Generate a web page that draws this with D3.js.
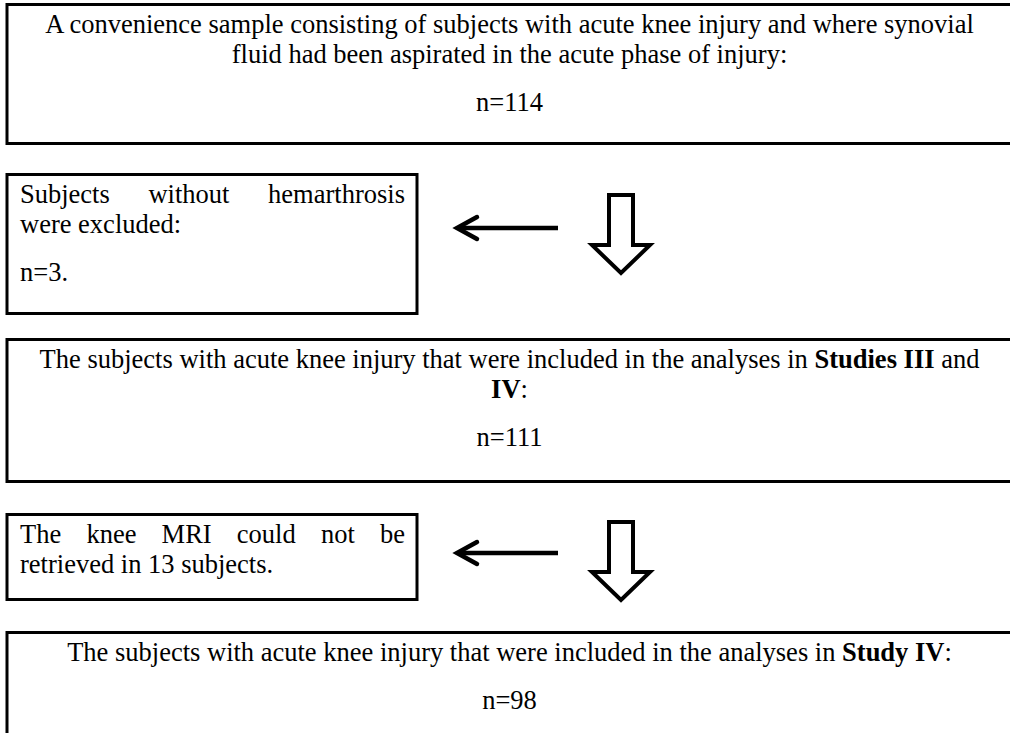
<!DOCTYPE html>
<html>
<head>
<meta charset="utf-8">
<script src="https://cdn.jsdelivr.net/npm/d3@7"></script>
<style>
  html, body { margin: 0; padding: 0; background: #fff; }
  svg { display: block; }
  text { font-family: "Liberation Serif", "Times New Roman", serif; font-size: 26.5px; fill: #000; }
</style>
</head>
<body>
<svg id="chart" width="1010" height="733"></svg>
<script>
// ---- data ----
const mainTexts = [
  ["A convenience sample consisting of subjects with acute knee injury and where synovial",
   "fluid had been aspirated in the acute phase of injury:"],
  ["The subjects with acute knee injury that were included in the analyses in **Studies III** and",
   "**IV**:"],
  ["The subjects with acute knee injury that were included in the analyses in **Study IV**:"]
];
const mainCounts = [114, 111, 98];
const exclusionTexts = [
  ["Subjects without hemarthrosis", "were excluded:"],
  ["The knee MRI could not be", "retrieved in 13 subjects."]
];
const exclusionCounts = [3, 13];
const exclusionShowCount = [true, false];

// ---- layout ----
const svg = d3.select("#chart");
const mainTop = [3, 338, 631];
const mainH = [139, 142, 140];
const mainX0 = 7, mainX1 = 1014;
const exTop = [173, 513];
const exH = [139, 85];
const exX0 = 7, exX1 = 417;
const lineGap = 30, countGap = 48, firstLine = 22, baseOff = 8;
const arrowY = [228, 553];
const blockTop = [195, 522];
const blockHead = [245, 572];
const blockTip = [273, 600];

function addRich(sel, str) {
  const parts = str.split("**");
  parts.forEach((p, i) => {
    if (!p) return;
    sel.append("tspan").text(p).style("font-weight", i % 2 ? "bold" : "normal");
  });
}

// main boxes
mainTexts.forEach((lines, i) => {
  const g = svg.append("g");
  g.append("rect")
    .attr("x", mainX0).attr("y", mainTop[i] + 1.5)
    .attr("width", mainX1 - mainX0).attr("height", mainH[i])
    .attr("fill", "none").attr("stroke", "#000").attr("stroke-width", 3);
  const cx = (mainX0 + 1012) / 2;
  lines.forEach((ln, j) => {
    const t = g.append("text").attr("x", cx)
      .attr("y", mainTop[i] + firstLine + j * lineGap + baseOff)
      .attr("text-anchor", "middle");
    addRich(t, ln);
  });
  const lastC = mainTop[i] + firstLine + (lines.length - 1) * lineGap;
  g.append("text").attr("x", cx).attr("y", lastC + countGap + baseOff)
    .attr("text-anchor", "middle").text("n=" + mainCounts[i]);
});

// justified line helper
function justify(g, str, x0, x1, y) {
  const words = str.split(" ");
  const nodes = words.map(w => g.append("text").attr("y", y).text(w));
  const widths = nodes.map(n => n.node().getComputedTextLength());
  const total = d3.sum(widths);
  const gap = (x1 - x0 - total) / (words.length - 1);
  let x = x0;
  nodes.forEach((n, k) => { n.attr("x", x); x += widths[k] + gap; });
}

// exclusion boxes
exclusionTexts.forEach((lines, i) => {
  const g = svg.append("g");
  g.append("rect")
    .attr("x", exX0).attr("y", exTop[i] + 1.5)
    .attr("width", exX1 - exX0).attr("height", exH[i])
    .attr("fill", "none").attr("stroke", "#000").attr("stroke-width", 3);
  const tx0 = 20, tx1 = 405;
  lines.forEach((ln, j) => {
    const y = exTop[i] + firstLine + j * lineGap + baseOff;
    if (j < lines.length - 1) justify(g, ln, tx0, tx1, y);
    else g.append("text").attr("x", tx0).attr("y", y).text(ln);
  });
  if (exclusionShowCount[i]) {
    const lastC = exTop[i] + firstLine + (lines.length - 1) * lineGap;
    g.append("text").attr("x", tx0).attr("y", lastC + countGap + baseOff)
      .text("n=" + exclusionCounts[i] + ".");
  }

  // thin left arrow
  const ay = arrowY[i];
  g.append("line").attr("x1", 558).attr("x2", 458).attr("y1", ay).attr("y2", ay)
    .attr("stroke", "#000").attr("stroke-width", 4.5);
  g.append("path")
    .attr("d", `M477,${ay - 11} L457,${ay} L477,${ay + 11}`)
    .attr("fill", "none").attr("stroke", "#000").attr("stroke-width", 4.5)
    .attr("stroke-linecap", "round").attr("stroke-linejoin", "miter");

  // hollow block arrow pointing down
  const sx0 = 609, sx1 = 633, hx0 = 592, hx1 = 650, cxA = 621;
  const p = d3.path();
  p.moveTo(sx0, blockTop[i]);
  p.lineTo(sx1, blockTop[i]);
  p.lineTo(sx1, blockHead[i]);
  p.lineTo(hx1, blockHead[i]);
  p.lineTo(cxA, blockTip[i]);
  p.lineTo(hx0, blockHead[i]);
  p.lineTo(sx0, blockHead[i]);
  p.closePath();
  g.append("path").attr("d", p.toString())
    .attr("fill", "#fff").attr("stroke", "#000").attr("stroke-width", 4)
    .attr("stroke-linejoin", "miter");
});
</script>
</body>
</html>
